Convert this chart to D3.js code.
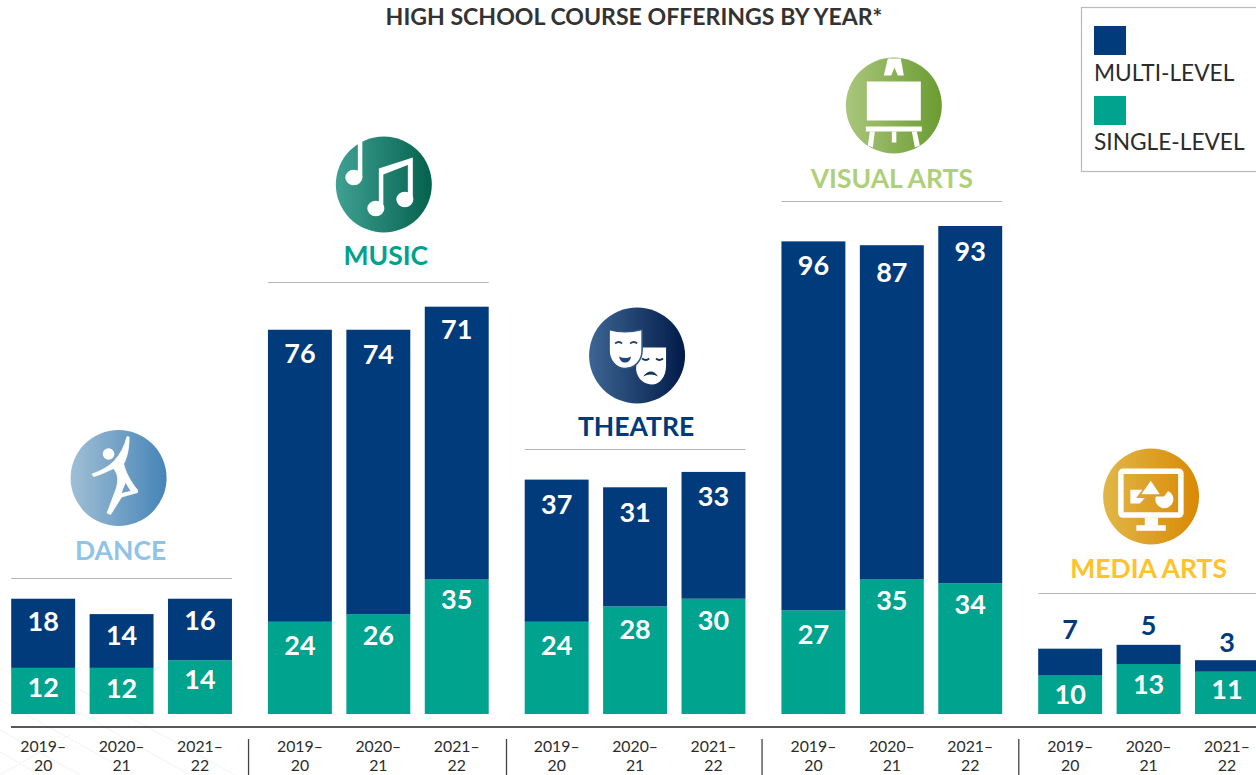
<!DOCTYPE html>
<html>
<head>
<meta charset="utf-8">
<script src="https://cdn.jsdelivr.net/npm/d3@7"></script>
<style>
    html, body { margin: 0; padding: 0; background: #fff; overflow: hidden; }
    text { font-family: Lato, sans-serif; }
</style>
</head>
<body>
<div id="chart"></div>
<script>
// Data
const arts = ["DANCE", "MUSIC", "THEATRE", "VISUAL ARTS", "MEDIA ARTS"];
const years = ["2019–20", "2020–21", "2021–22"];
const multiLevel = [
    [18, 14, 16],
    [76, 74, 71],
    [37, 31, 33],
    [96, 87, 93],
    [7, 5, 3]
];
const singleLevel = [
    [12, 12, 14],
    [24, 26, 35],
    [24, 28, 30],
    [27, 35, 34],
    [10, 13, 11]
];
const legendLabels = ["MULTI-LEVEL", "SINGLE-LEVEL"];

const width = 1256, height = 775;
const NAVY = "#023b7b", TEAL = "#00a38e";
const artColors = ["#8fc3e8", "#00a28e", "#003a78", "#afd07a", "#fdc32d"];
const gradients = [
    ["#a0bfd5", "#4684b7"],
    ["#3fa193", "#04614d"],
    ["#3d6593", "#011b49"],
    ["#aac67c", "#6a9b30"],
    ["#e1b747", "#d98904"]
];

// layout tweaks, not data: gap between tallest stack and header rule, icon and title nudges
const ruleGap = [21, 25, 23, 25, 52];
const iconDx = [-3, 5.5, 2, 2, 2.5];
const iconUp = [100.5, 98, 94, 96, 97];
const titleDx = [-1, 7.5, 1, 0, 0];
const titleDy = [-2, -1, 3, 3, 1];
const separatorDx = [0, 0, 1.2, 0, 0];
const multiDy = [[0, -1, -1], [1, 2, 0], [2, 3, 2], [2, 5, 3], [-1, -1, 1]];
const singleDy = [[0, 1, 0], [4, 2, 0], [4, 4, 2], [5, 1, 2], [-1, 1, -2]];

const svg = d3.select("#chart").append("svg")
    .attr("width", width)
    .attr("height", height)
    .style("display", "block");

const defs = svg.append("defs");
gradients.forEach((g, i) => {
    const lg = defs.append("linearGradient").attr("id", `grad${i}`);
    lg.append("stop").attr("offset", "0%").attr("stop-color", g[0]);
    lg.append("stop").attr("offset", "100%").attr("stop-color", g[1]);
});

// faint diagonal texture in the lower left of the page
svg.append("path")
    .attr("fill", "none")
    .attr("stroke", "#f3f3f5")
    .attr("stroke-width", 1)
    .attr("d", "M0,668 L190,775 M0,700 L135,775 M0,730 L80,775 M0,752 L40,775 M40,668 L235,775 M0,775 L70,735");

// scales
const xGroup = d3.scaleBand().domain(arts).range([11.2, 1258.95]).paddingInner(36 / 256.75);
const xYear = d3.scaleBand().domain(years).range([0, xGroup.bandwidth()]).paddingInner(14.5 / 78.5);
const y = d3.scaleLinear().domain([0, 127]).range([714, 226]);

svg.append("text")
    .attr("x", 634)
    .attr("y", 25)
    .attr("text-anchor", "middle")
    .attr("font-size", 23.1)
    .attr("font-weight", 700)
    .attr("fill", "#333")
    .text("HIGH SCHOOL COURSE OFFERINGS BY YEAR*");

// legend
const legend = svg.append("g");
legend.append("rect")
    .attr("x", 1081.5).attr("y", 7.5)
    .attr("width", 190).attr("height", 164)
    .attr("fill", "#fff").attr("stroke", "#bbb").attr("stroke-width", 1.2);
legendLabels.forEach((d, i) => {
    legend.append("rect")
        .attr("x", 1094).attr("y", 26 + i * 70)
        .attr("width", 32).attr("height", 29)
        .attr("fill", i === 0 ? NAVY : TEAL);
    legend.append("text")
        .attr("x", 1094).attr("y", 81 + i * 69)
        .attr("font-size", 22.7)
        .attr("fill", "#2b2b2b")
        .text(d);
});

// icons, drawn in a box around 0,0 with the circle of radius 48
const iconDraw = [
    function dance(g) {
        g.append("circle").attr("cx", -10).attr("cy", -24).attr("r", 5.8).attr("fill", "#fff");
        g.append("path").attr("fill", "#fff").attr("stroke", "#fff").attr("stroke-width", 0.8).attr("stroke-linejoin", "round")
            .attr("d", "M8.5,-41.5 L10.5,-41 C10.5,-30 9,-22 5,-14 C7,-6 12,4 19,12 L19,14.5 L3,19 L-8,36.5 L-11.5,35 L-2.5,11 C-0.5,4 0.5,-3 -5,-9.5 C-11,-7 -17,-3.5 -25,-1.5 L-26.5,-4 C-18,-7 -10,-11 -4,-17.5 C2,-24 6,-32 8.5,-41.5 Z");
        g.append("path").attr("fill", "#6f9fc6").attr("d", "M7,5 L12,13 L3,15 Z");
    },
    function music(g) {
        g.append("ellipse").attr("cx", -30).attr("cy", -7).attr("rx", 8.5).attr("ry", 7.8).attr("fill", "#fff");
        g.append("rect").attr("x", -26).attr("y", -44).attr("width", 4.5).attr("height", 38).attr("fill", "#fff");
        g.append("ellipse").attr("cx", -8).attr("cy", 24).attr("rx", 8.5).attr("ry", 7.8).attr("fill", "#fff");
        g.append("ellipse").attr("cx", 21).attr("cy", 15).attr("rx", 8.5).attr("ry", 7.8).attr("fill", "#fff");
        g.append("path").attr("fill", "#fff")
            .attr("d", "M-5,-16 L29,-27 L29,16 L24,16 L24,-19.5 L-0.5,-10 L-0.5,25 L-5,25 Z");
    },
    function theatre(g) {
        const dark = "#1f4672";
        g.append("path").attr("fill", "#fff").attr("d", "M0,-8 L29,-8 L29,10 C29,22 22,29 15,29 C8,29 0,24 -1,14 Z");
        g.append("path").attr("fill", "#fff").attr("stroke", "#2b5583").attr("stroke-width", 1.5)
            .attr("d", "M-28,-26 C-18,-23 -6,-23 5,-26 L5,-5 C5,6 -3,13 -12,13 C-21,13 -28,5 -28,-5 Z");
        g.append("path").attr("fill", "none").attr("stroke", dark).attr("stroke-width", 1.8).attr("d", "M-22,-12 Q-18,-15 -15,-12 M-7,-12 Q-3,-15 0,-12");
        g.append("path").attr("fill", dark).attr("d", "M-18,1 Q-12,4 -6,1 Q-7,7 -12,7 Q-17,7 -18,1 Z");
        g.append("path").attr("fill", "none").attr("stroke", "#153356").attr("stroke-width", 1.8).attr("d", "M5,3 Q9,6 12,3 M19,3 Q22,6 26,3");
        g.append("path").attr("fill", "#153356").attr("d", "M6,21 Q14,11 21,21 Q14,17 6,21 Z");
    },
    function visual(g) {
        g.append("rect").attr("x", -27).attr("y", -24).attr("width", 54).attr("height", 39).attr("fill", "#fff");
        g.append("path").attr("fill", "#fff").attr("d", "M-6,-47 L7,-47 L10,-30 L4,-30 L0.5,-38 L-2.5,-30 L-10,-30 Z");
        g.append("rect").attr("x", -28).attr("y", 21).attr("width", 56).attr("height", 5).attr("fill", "#fff");
        g.append("path").attr("fill", "#fff").attr("d", "M-24,26 L-19,26 L-21,42 L-26,40 Z M18,26 L23,26 L26,40 L21,42 Z");
        g.append("rect").attr("x", -2).attr("y", 26).attr("width", 4.5).attr("height", 11).attr("fill", "#fff");
    },
    function media(g) {
        g.append("rect").attr("x", -30.2).attr("y", -25.2).attr("width", 60).attr("height", 43.8).attr("rx", 2)
            .attr("fill", "none").attr("stroke", "#fff").attr("stroke-width", 5.5);
        g.append("path").attr("fill", "#fff").attr("d", "M-0.3,-15.7 L8.7,-2.3 L-9.7,-2.3 Z");
        g.append("path").attr("fill", "#fff").attr("d", "M-20.7,-6.7 L-8.7,-6.7 L-15,1.5 L-6.3,1.5 L-11.3,7 L-20.7,7 Z");
        g.append("path").attr("fill", "#fff").attr("d", "M4.7,0 L13,0 L17,-5.5 A9,9 0 1 1 4.7,0 Z");
        g.append("rect").attr("x", -6.3).attr("y", 21).attr("width", 13.3).attr("height", 8).attr("fill", "#fff");
        g.append("rect").attr("x", -14.7).attr("y", 28.7).attr("width", 29.4).attr("height", 5.6).attr("fill", "#fff");
    }
];

// one group per art form
arts.forEach((art, a) => {
    const x0 = xGroup(art);
    const g = svg.append("g").attr("transform", `translate(${x0},0)`);
    const cx = xGroup.bandwidth() / 2;
    const rows = years.map((yr, i) => ({ yr, multi: multiLevel[a][i], single: singleLevel[a][i], i }));

    // single-level
    g.selectAll("rect.single").data(rows).join("rect")
        .attr("class", "single")
        .attr("x", d => xYear(d.yr))
        .attr("width", xYear.bandwidth())
        .attr("y", d => y(d.single))
        .attr("height", d => y(0) - y(d.single))
        .attr("fill", TEAL);

    // multi-level on top
    g.selectAll("rect.multi").data(rows).join("rect")
        .attr("class", "multi")
        .attr("x", d => xYear(d.yr))
        .attr("width", xYear.bandwidth())
        .attr("y", d => y(d.single + d.multi))
        .attr("height", d => y(d.single) - y(d.single + d.multi))
        .attr("fill", NAVY);

    // the media arts multi-level bars are too short, those numbers sit above the bar
    const outside = art === "MEDIA ARTS";
    g.selectAll("text.multi").data(rows).join("text")
        .attr("class", "multi")
        .attr("x", d => xYear(d.yr) + xYear.bandwidth() / 2)
        .attr("y", d => y(d.single + d.multi) + (outside ? -9 : 32) + multiDy[a][d.i])
        .attr("text-anchor", "middle")
        .attr("font-size", 27)
        .attr("font-weight", 700)
        .attr("fill", outside ? NAVY : "#fff")
        .text(d => d.multi);

    g.selectAll("text.single").data(rows).join("text")
        .attr("class", "single")
        .attr("x", d => xYear(d.yr) + xYear.bandwidth() / 2)
        .attr("y", d => y(d.single) + 29 + singleDy[a][d.i])
        .attr("text-anchor", "middle")
        .attr("font-size", 27)
        .attr("font-weight", 700)
        .attr("fill", "#fff")
        .text(d => d.single);

    // header: rule, name, icon
    const top = y(d3.max(rows, d => d.single + d.multi));
    const ruleY = Math.round(top - ruleGap[a]) + 0.5;
    g.append("line")
        .attr("x1", 0).attr("x2", xGroup.bandwidth())
        .attr("y1", ruleY).attr("y2", ruleY)
        .attr("stroke", "#b5b5b5").attr("stroke-width", 1.2);
    g.append("text")
        .attr("x", cx + titleDx[a])
        .attr("y", ruleY - 17 + titleDy[a])
        .attr("text-anchor", "middle")
        .attr("font-size", 26.5)
        .attr("font-weight", 700)
        .attr("fill", artColors[a])
        .text(art);
    const icon = g.append("g").attr("transform", `translate(${cx + iconDx[a]},${ruleY - iconUp[a]})`);
    icon.append("circle").attr("r", 48).attr("fill", `url(#grad${a})`);
    iconDraw[a](icon);

    // year axis
    const axis = g.append("g")
        .attr("transform", "translate(0,727)")
        .call(d3.axisBottom(xYear).tickSize(0).tickPadding(0));
    axis.select(".domain").remove();
    axis.selectAll(".tick text").each(function(d) {
        const parts = d.split("–");
        const t = d3.select(this).text(null)
            .attr("y", 0).attr("dy", null)
            .attr("font-size", 15.8)
            .attr("fill", "#2b2b2b")
            .style("font-family", "Lato, sans-serif");
        t.append("tspan").attr("x", 0).attr("y", 25).text(parts[0] + "–");
        t.append("tspan").attr("x", 0).attr("y", 44).text(parts[1]);
    });

    // separator to the left of each group after the first
    if (a > 0) {
        svg.append("line")
            .attr("x1", x0 - 19.4 + separatorDx[a]).attr("x2", x0 - 19.4 + separatorDx[a])
            .attr("y1", 739).attr("y2", height)
            .attr("stroke", "#444").attr("stroke-width", 1.3);
    }
});

// baseline
svg.append("line")
    .attr("x1", 11).attr("x2", width)
    .attr("y1", 727).attr("y2", 727)
    .attr("stroke", "#222").attr("stroke-width", 1.3);
</script>
</body>
</html>
